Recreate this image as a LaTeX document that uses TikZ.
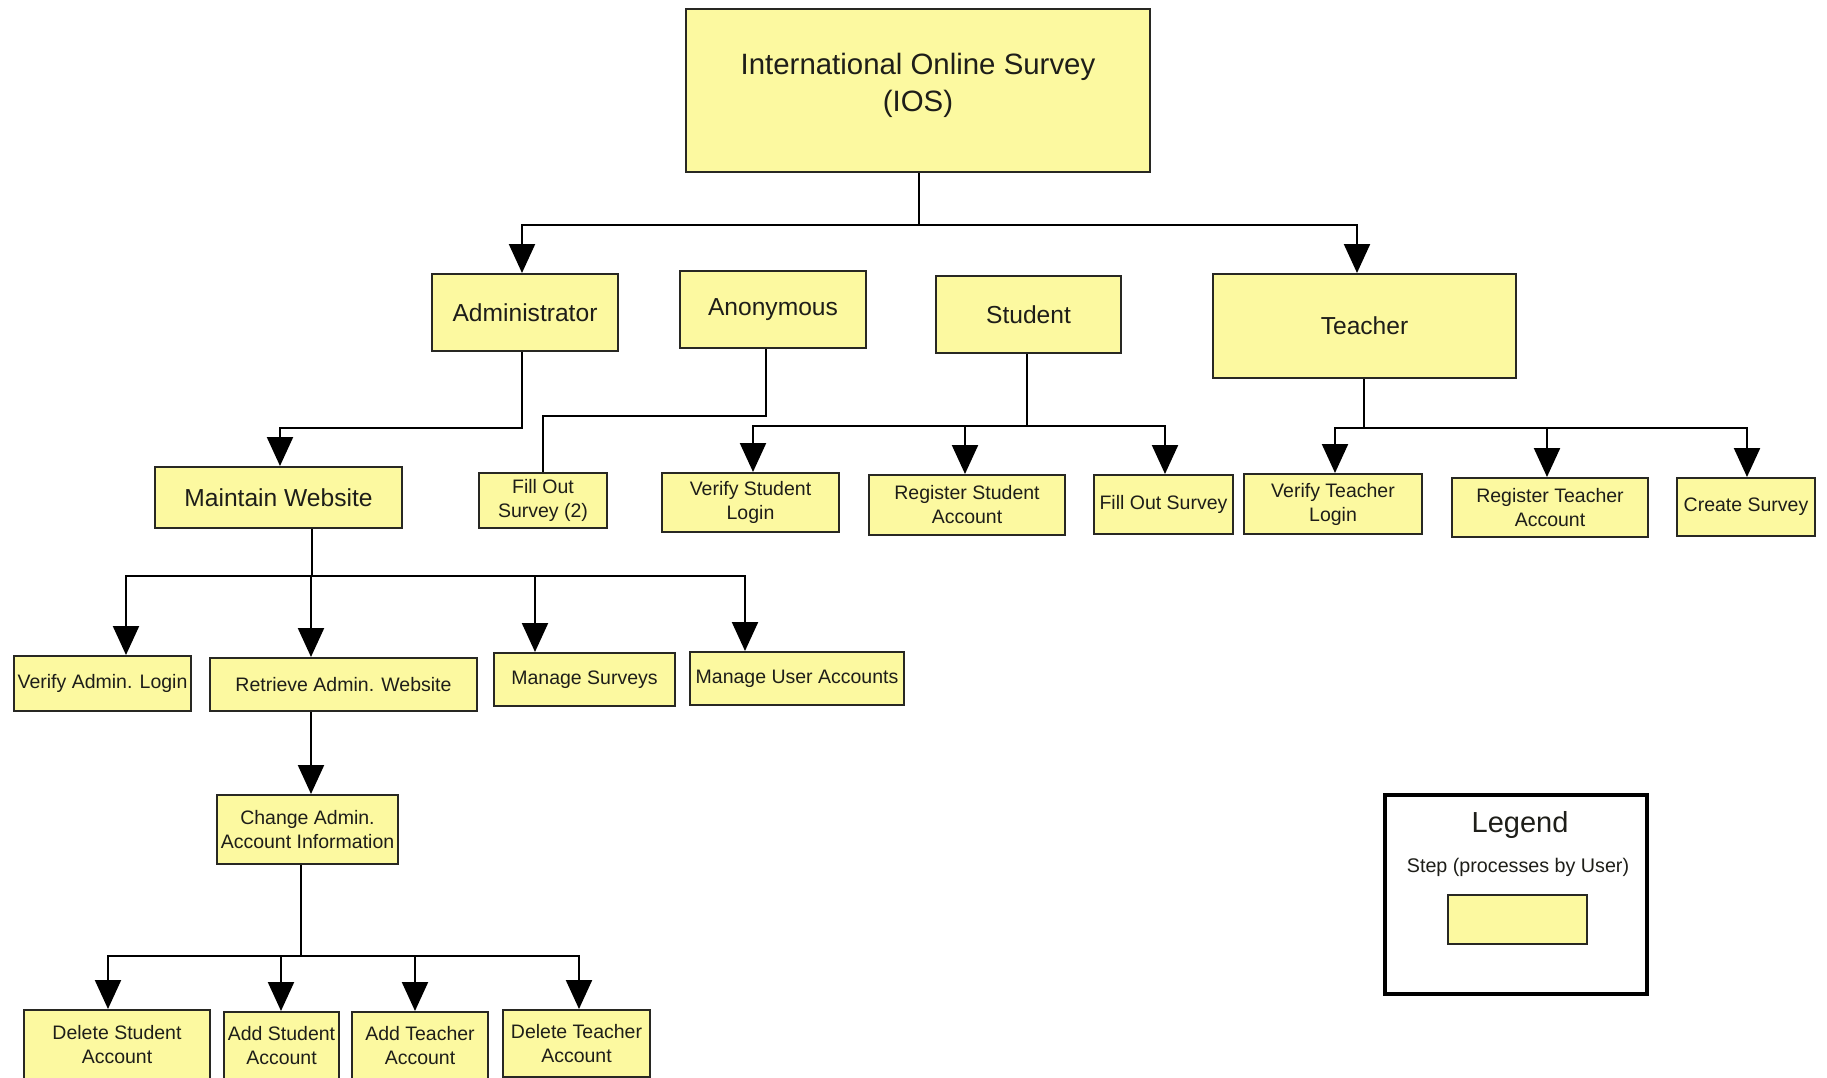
\documentclass[tikz,border=0pt]{standalone}
\usepackage{fontspec}
\setmainfont{Liberation Sans}
\usetikzlibrary{arrows.meta}
\definecolor{boxfill}{RGB}{252,249,160}
\definecolor{boxline}{RGB}{40,40,35}
\definecolor{txt}{RGB}{30,30,25}
\tikzset{
  box/.style={draw=boxline, line width=2pt, fill=boxfill, inner sep=0pt, align=center, text=txt,
              font=\fontsize{19.5}{24}\selectfont},
  bigbox/.style={box, font=\fontsize{24.6}{30}\selectfont},
  conn/.style={draw=black, line width=2.2pt},
  arr/.style={conn, -{Triangle[width=26pt,length=29pt]}},
}
\begin{document}
\begin{tikzpicture}[x=1pt,y=-1pt]
\useasboundingbox[fill=white] (0,0) rectangle (1827,1078);

% top
\node[box, minimum width=464, minimum height=163, text depth=16pt, font=\fontsize{29.4}{37}\selectfont] (top) at (918,90.5)
  {International Online Survey\\(IOS)};

% level 1
\node[bigbox, minimum width=186, minimum height=77] (admin) at (525,312.5) {Administrator};
\node[bigbox, minimum width=186, minimum height=77] (anon) at (773,309.5) {Anonymous};
\node[bigbox, minimum width=185, minimum height=77] (student) at (1028.5,314.5) {Student};
\node[bigbox, minimum width=303, minimum height=104] (teacher) at (1364.5,326) {Teacher};

% level 2
\node[bigbox, minimum width=247, minimum height=61] (maintain) at (278.5,497.5) {Maintain Website};
\node[box, minimum width=128, minimum height=55] (fill2) at (543,500.5) {Fill Out\\Survey (2)};
\node[box, minimum width=177, minimum height=59] (vstud) at (750.5,502.5) {Verify Student\\Login};
\node[box, minimum width=196, minimum height=60] (rstud) at (967,505) {Register Student\\Account};
\node[box, minimum width=139, minimum height=59] (fill1) at (1163.5,504.5) {Fill Out Survey};
\node[box, minimum width=178, minimum height=60] (vteach) at (1333,504) {Verify Teacher\\Login};
\node[box, minimum width=196, minimum height=59] (rteach) at (1550,507.5) {Register Teacher\\Account};
\node[box, minimum width=138, minimum height=58] (create) at (1746,507) {Create Survey};

% level 3
\node[box, minimum width=177, minimum height=55] (vadmin) at (102.5,683.5) {Verify Admin. Login};
\node[box, minimum width=267, minimum height=53] (retr) at (343.5,684.5) {Retrieve Admin. Website};
\node[box, minimum width=181, minimum height=53] (msurv) at (584.5,679.5) {Manage Surveys};
\node[box, minimum width=214, minimum height=53] (muser) at (797,678.5) {Manage User Accounts};

% level 4
\node[box, minimum width=181, minimum height=69] (change) at (307.5,829.5) {Change Admin.\\Account Information};

% level 5
\node[box, minimum width=186, minimum height=70] (dstud) at (117,1045) {Delete Student\\Account};
\node[box, minimum width=115, minimum height=68] (astud) at (281.5,1046) {Add Student\\Account};
\node[box, minimum width=136, minimum height=68] (ateach) at (420,1046) {Add Teacher\\Account};
\node[box, minimum width=147, minimum height=67] (dteach) at (576.5,1043.5) {Delete Teacher\\Account};

% legend
\node[draw=black, line width=4pt, fill=white, minimum width=262, minimum height=199, inner sep=0pt] (legend) at (1516,894.5) {};
\node[text=txt, font=\fontsize{29}{34}\selectfont, inner sep=0pt] (legtitle) at (1520,825) {Legend};
\node[text=txt, font=\fontsize{19.7}{24}\selectfont, inner sep=0pt] (legtext) at (1518,867) {Step (processes by User)};
\node[box, minimum width=139, minimum height=49] (legbox) at (1517.5,919.5) {};

% connectors: top
\coordinate (j0) at (919,225);
\coordinate (t1) at (522,225);
\coordinate (t2) at (1357,225);
\draw[conn] (top.south -| j0) -- (j0);
\draw[arr] (j0) -- (t1) -- (admin.north -| t1);
\draw[arr] (j0) -- (t2) -- (teacher.north -| t2);

% administrator -> maintain
\coordinate (jd) at (522,428);
\coordinate (m1) at (280,428);
\draw[arr] (admin.south -| jd) -- (jd) -- (m1) -- (maintain.north -| m1);

% anonymous -> fill out survey (2)
\coordinate (ja) at (766,416);
\draw[conn] (anon.south -| ja) -- (ja) -| (fill2.north);

% student
\coordinate (js) at (1027,426);
\coordinate (s1) at (753,426);
\coordinate (s2) at (965,426);
\coordinate (s3) at (1165,426);
\draw[conn] (student.south -| js) -- (js);
\draw[arr] (js) -- (s1) -- (vstud.north -| s1);
\draw[arr] (js) -- (s2) -- (rstud.north -| s2);
\draw[arr] (js) -- (s3) -- (fill1.north -| s3);

% teacher
\coordinate (jt) at (1364,428);
\coordinate (u1) at (1335,428);
\coordinate (u2) at (1547,428);
\coordinate (u3) at (1747,428);
\draw[conn] (teacher.south -| jt) -- (jt);
\draw[arr] (jt) -- (u1) -- (vteach.north -| u1);
\draw[arr] (jt) -- (u2) -- (rteach.north -| u2);
\draw[arr] (jt) -- (u3) -- (create.north -| u3);

% maintain -> level 3
\coordinate (jm) at (312,576);
\draw[conn] (maintain.south -| jm) -- (jm);
\coordinate (a1) at (126,576);
\coordinate (a2) at (311,576);
\coordinate (a3) at (535,576);
\coordinate (a4) at (745,576);
\draw[arr] (jm) -- (a1) -- (vadmin.north -| a1);
\draw[arr] (jm) -- (a2) -- (retr.north -| a2);
\draw[arr] (jm) -- (a3) -- (msurv.north -| a3);
\draw[arr] (jm) -- (a4) -- (muser.north -| a4);

% retrieve -> change
\coordinate (rc) at (311,711);
\draw[arr] (retr.south -| rc) -- (change.north -| rc);

% change -> level 5
\coordinate (jc) at (301,956);
\draw[conn] (change.south -| jc) -- (jc);
\coordinate (b1) at (108,956);
\coordinate (b2) at (281,956);
\coordinate (b3) at (415,956);
\coordinate (b4) at (579,956);
\draw[arr] (jc) -- (b1) -- (dstud.north -| b1);
\draw[arr] (jc) -- (b2) -- (astud.north -| b2);
\draw[arr] (jc) -- (b3) -- (ateach.north -| b3);
\draw[arr] (jc) -- (b4) -- (dteach.north -| b4);
\end{tikzpicture}
\end{document}
